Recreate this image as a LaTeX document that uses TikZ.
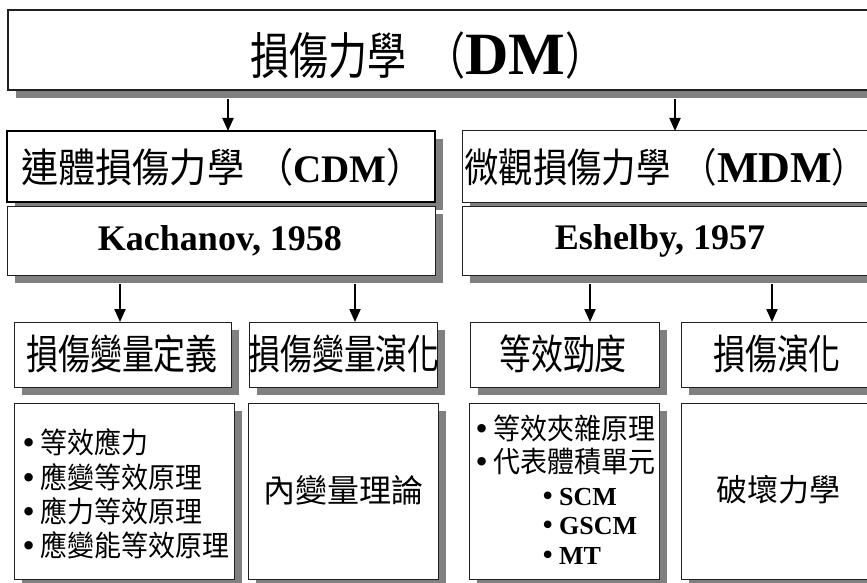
\documentclass[tikz,border=0pt]{standalone}
\usepackage{fontspec}
\usepackage{graphicx}
\setmainfont{Liberation Serif}
\newfontfamily\cjk{Noto Sans CJK TC}
\newfontfamily\cjkT[FakeStretch=0.78]{Noto Sans CJK TC}
\newfontfamily\cjkM[FakeStretch=0.86]{Noto Sans CJK TC}
\newfontfamily\cjkN[FakeStretch=0.93]{Noto Sans CJK TC}
\newfontfamily\djv{DejaVu Sans}
\usetikzlibrary{arrows.meta,fit}
\definecolor{shadowgray}{HTML}{808080}
\definecolor{edgegray}{HTML}{202020}
\newcommand\bul{{\djv\mdseries •}\hspace{0.12em}}
\newcommand\sbul{{\djv\mdseries •}\hspace{0.14em}}
\newcommand\shbox[6][]{%
  \fill[shadowgray] (#3+8,#4+8) rectangle (#5+8,#6+8);
  \node[box,#1,fit={(#3,#4) (#5,#6)}] (#2) {};
}
\tikzset{
  box/.style={draw=edgegray, line width=1pt, fill=white, inner sep=0pt, outer sep=0pt},
  arr/.style={line width=2pt, -{Triangle[length=13pt,width=11pt]}},
  big/.style={inner sep=0pt, font=\cjkT\fontsize{41}{44}\selectfont},
  lst/.style={inner sep=0pt, anchor=west, font=\cjkN\fontsize{29}{31}\selectfont},
  sub/.style={inner sep=0pt, anchor=west, font=\rmfamily\bfseries\fontsize{26}{28}\selectfont},
}
\begin{document}
\begin{tikzpicture}[x=1pt,y=-1pt]
\useasboundingbox (0,0) rectangle (867,583);
\clip (0,0) rectangle (867,583);
% boxes with shadows
\shbox[line width=1.2pt]{top}{8}{10}{890}{90}
\shbox[line width=2.6pt,draw=black]{cdm}{7}{131}{435}{202}
\shbox{kach}{7}{206}{435}{275}
\shbox{mdm}{462}{131}{890}{202}
\shbox{esh}{462}{206}{890}{275}
\shbox{b1}{14}{322}{231}{387}
\shbox{b2}{249}{322}{437}{387}
\shbox{b3}{470}{322}{659}{387}
\shbox{b4}{681}{322}{890}{387}
\shbox{b5}{14}{403}{234}{579}
\shbox{b6}{248}{403}{438}{579}
\shbox{b7}{469}{403}{659}{579}
\shbox{b8}{681}{403}{890}{579}
% arrow start points
\coordinate (a1) at (228,99);
\coordinate (a2) at (675,99);
\coordinate (c1) at (120,284);
\coordinate (c2) at (355,284);
\coordinate (c3) at (590,284);
\coordinate (c4) at (772,284);
\draw[arr] (a1) -- (a1 |- cdm.north);
\draw[arr] (a2) -- (a2 |- mdm.north);
\draw[arr] (c1) -- (c1 |- b1.north);
\draw[arr] (c2) -- (c2 |- b2.north);
\draw[arr] (c3) -- (c3 |- b3.north);
\draw[arr] (c4) -- (c4 |- b4.north);
% texts
\node[inner sep=0pt, anchor=west, font=\cjkT\fontsize{50}{52}\selectfont] (t0) at (250,56)
  {損傷力學\hspace{0.4em}（{\rmfamily\bfseries\fontsize{60}{60}\selectfont DM}）};
\node[inner sep=0pt, anchor=west, font=\cjkN\fontsize{40}{42}\selectfont] (tcdm) at (21,167)
  {連體損傷力學\hspace{0.3em}（{\rmfamily\bfseries\fontsize{39}{39}\selectfont CDM}）};
\node[inner sep=0pt, anchor=west, font=\cjkM\fontsize{40}{42}\selectfont] (tmdm) at (464,167)
  {微觀損傷力學\hspace{0.3em}（{\rmfamily\bfseries\fontsize{44}{44}\selectfont MDM}）};
\node[inner sep=0pt, font=\rmfamily\bfseries\fontsize{36}{38}\selectfont] (tka) at (220,241) {Kachanov, 1958};
\node[inner sep=0pt, font=\rmfamily\bfseries\fontsize{36}{38}\selectfont] (tes) at (660,241) {Eshelby, 1957};
\node[big] (t1) at (122,354) {損傷變量定義};
\node[big] (t2) at (344,354) {損傷變量演化};
\node[big] (t3) at (563,354) {等效勁度};
\node[big] (t4) at (777,354) {損傷演化};
\node[lst] (l1) at (20,442) {\bul 等效應力};
\node[lst] (l2) at (20,477) {\bul 應變等效原理};
\node[lst] (l3) at (20,511) {\bul 應力等效原理};
\node[lst] (l4) at (20,545) {\bul 應變能等效原理};
\node[inner sep=0pt, font=\cjk\fontsize{32}{34}\selectfont] (t6) at (343,490) {內變量理論};
\node[lst] (m1) at (473,428) {\bul 等效夾雜原理};
\node[lst] (m2) at (473,462) {\bul 代表體積單元};
\node[sub] (m3) at (540,497) {\sbul SCM};
\node[sub] (m4) at (540,526) {\sbul GSCM};
\node[sub] (m5) at (540,556) {\sbul MT};
\node[inner sep=0pt, font=\cjk\fontsize{31}{33}\selectfont] (t8) at (778,490) {破壞力學};
\end{tikzpicture}
\end{document}
